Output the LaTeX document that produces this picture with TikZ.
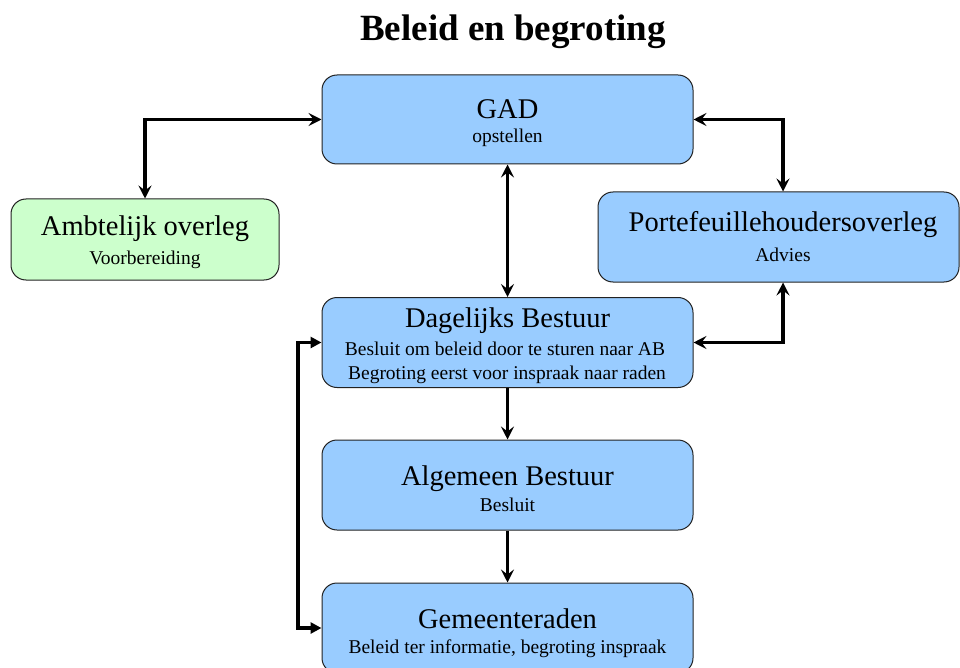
\documentclass[tikz,border=0pt]{standalone}
\usepackage{fontspec}
\setmainfont{Liberation Serif}
\usetikzlibrary{arrows.meta}
\definecolor{boxblue}{HTML}{99CCFF}
\definecolor{boxgreen}{HTML}{CCFFCC}
\definecolor{boxline}{HTML}{222222}
\begin{document}
\begin{tikzpicture}[x=1pt,y=-1pt,
  box/.style={draw=boxline, line width=1pt, rounded corners=15pt, fill=boxblue, inner sep=0pt},
  big/.style={anchor=base, font=\fontsize{28.5}{30}\selectfont, inner sep=0pt},
  small/.style={anchor=base, font=\fontsize{19.5}{21}\selectfont, inner sep=0pt},
  conn/.style={line width=3.3pt, {Stealth[length=13pt,width=13pt,inset=5pt]}-{Stealth[length=13pt,width=13pt,inset=5pt]}},
  oneway/.style={line width=3.3pt, -{Stealth[length=13pt,width=13pt,inset=5pt]}},
  tri/.style={line width=3.3pt, {Triangle[length=11pt,width=11pt]}-{Triangle[length=11pt,width=11pt]}}]
\useasboundingbox (0,0) rectangle (960,668);
\clip (0,0) rectangle (960,668);
\node[font=\fontsize{37}{40}\selectfont\bfseries, anchor=base] (title) at (513,41) {Beleid en begroting};

\node[box, minimum width=371pt, minimum height=89pt] (gad) at (507.5,119.5) {};
\node[big] (gadt) at (507.5,119) {GAD};
\node[small] (gads) at (507.5,143) {opstellen};

\node[box, fill=boxgreen, minimum width=268pt, minimum height=81pt] (amb) at (145,239.5) {};
\node[big] (ambt) at (145,236) {Ambtelijk overleg};
\node[small] (ambs) at (145,265) {Voorbereiding};

\node[box, minimum width=361pt, minimum height=90pt] (pf) at (778.5,237) {};
\node[big] (pft) at (783,232) {Portefeuillehoudersoverleg};
\node[small] (pfs) at (783,261) {Advies};

\node[box, minimum width=371pt, minimum height=90pt] (db) at (507.5,342.5) {};
\node[big] (dbt) at (507.5,327) {Dagelijks Bestuur};
\node[small] (dbs1) at (505,355) {Besluit om beleid door te sturen naar AB};
\node[small] (dbs2) at (507,379) {Begroting eerst voor inspraak naar raden};

\node[box, minimum width=371pt, minimum height=90pt] (ab) at (507.5,485) {};
\node[big] (abt) at (507.5,485) {Algemeen Bestuur};
\node[small] (abs) at (507.5,511) {Besluit};

\node[box, minimum width=371pt, minimum height=90pt] (gr) at (507.5,628) {};
\node[big] (grt) at (507.5,628) {Gemeenteraden};
\node[small] (grs) at (507.5,653) {Beleid ter informatie, begroting inspraak};

\draw[conn] (amb.north) -- (amb.north |- gad.west) -- (gad.west);
\draw[conn] (gad.east) -- (pft.north |- gad.east) -- (pft.north |- pf.north);
\draw[conn] (gad.south) -- (db.north);
\draw[conn] (db.east) -- (pft.north |- db.east) -- (pft.north |- pf.south);
\draw[oneway] (db.south) -- (ab.north);
\draw[oneway] (ab.south) -- (gr.north);
\coordinate (lx) at (298,0);
\draw[tri] (db.west) -- (lx |- db.west) -- (lx |- gr.west) -- (gr.west);
\end{tikzpicture}
\end{document}
